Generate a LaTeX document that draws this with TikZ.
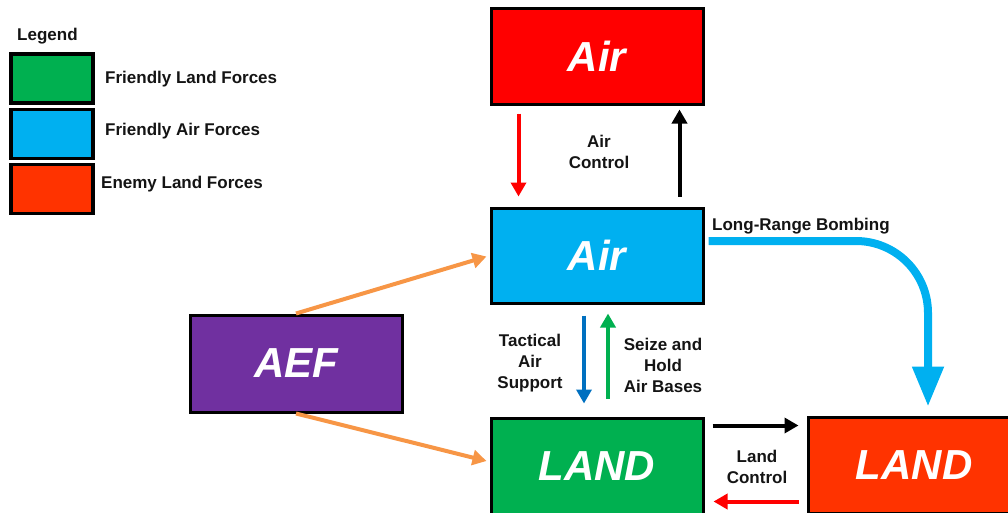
\documentclass[tikz,border=0pt]{standalone}
\usepackage{fontspec}
\setmainfont{Liberation Sans}
\usetikzlibrary{arrows.meta,calc}
\definecolor{cRed}{HTML}{FF0000}
\definecolor{cSky}{HTML}{00B0F0}
\definecolor{cGreen}{HTML}{00B050}
\definecolor{cEnemy}{HTML}{FF3300}
\definecolor{cPurple}{HTML}{7030A0}
\definecolor{cOrange}{HTML}{F79646}
\definecolor{cBlue}{HTML}{0070C0}
\tikzset{
  bigbox/.style={draw=black, line width=3pt, minimum width=212pt, minimum height=96pt, inner sep=0pt,
    text=white, font=\fontsize{42}{50}\selectfont\bfseries\itshape},
  legbox/.style={draw=black, line width=3.5pt, minimum width=82pt, minimum height=49pt, inner sep=0pt},
  lbl/.style={font=\fontsize{17}{21}\selectfont\bfseries, align=center, inner sep=0pt, text=black!92},
  arr/.style={line width=4pt, -{Triangle[length=14pt,width=15pt]}},
}
\begin{document}
\begin{tikzpicture}[x=1pt,y=-1pt]
\useasboundingbox (0,0) rectangle (1008,512);
\clip (0,0) rectangle (1008,512);
% legend
\node[lbl, anchor=west] (legT) at (17,36) {Legend};
\node[legbox, fill=cGreen] (lg1) at (52,78.5) {};
\node[legbox, fill=cSky] (lg2) at (52,134) {};
\node[legbox, fill=cEnemy] (lg3) at (52,189) {};
\node[lbl, anchor=west] (lt1) at (105,79) {Friendly Land Forces};
\node[lbl, anchor=west] (lt2) at (105,131) {Friendly Air Forces};
\node[lbl, anchor=west] (lt3) at (101,184) {Enemy Land Forces};
% boxes
\node[bigbox, fill=cRed] (redAir) at (597,56) {Air};
\node[bigbox, fill=cSky, minimum height=95pt] (blueAir) at (597,255.5) {Air};
\node[bigbox, fill=cGreen] (greenLand) at (597,466) {LAND};
\node[bigbox, fill=cEnemy] (enemyLand) at (914,465) {LAND};
\node[bigbox, fill=cPurple, minimum height=97pt] (aef) at (296,363.5) {AEF};
% air control
\draw[arr, draw=cRed, fill=cRed] ([xshift=29pt,yshift=-8pt]redAir.south west) -- ([xshift=29pt,yshift=10pt]blueAir.north west);
\draw[arr, draw=black] ([xshift=-25pt,yshift=10pt]blueAir.north east) -- ([xshift=-25pt,yshift=-4pt]redAir.south east);
\node[lbl] (acT) at (599,151.5) {Air\\Control};
% tactical / seize
\draw[arr, draw=cBlue] ([xshift=-13pt,yshift=-11pt]blueAir.south) -- ([xshift=-13pt,yshift=13pt]greenLand.north);
\draw[arr, draw=cGreen] ([xshift=11pt,yshift=18pt]greenLand.north) -- ([xshift=11pt,yshift=-9pt]blueAir.south);
\node[lbl] (tasT) at (530,363.5) {Tactical\\Air\\Support};
\node[lbl] (shT) at (663,365) {Seize and\\Hold\\Air Bases};
% long range bombing
\coordinate (lrTurn) at (928,241);
\draw[line width=8pt, draw=cSky, rounded corners=72pt, -{Triangle[length=40pt,width=30pt]}]
  ([xshift=4pt,yshift=14.5pt]blueAir.east) -- (lrTurn) -- ([yshift=9pt]enemyLand.north -| lrTurn);
\node[lbl, anchor=west] (lrT) at (712,226) {Long-Range Bombing};
% land control
\draw[arr, draw=black] ([xshift=8pt,yshift=-9pt]greenLand.north east) -- ([xshift=-8pt,yshift=-10pt]enemyLand.north west);
\draw[arr, draw=cRed] ([xshift=-8pt,yshift=-86pt]enemyLand.north west) -- ([xshift=9pt,yshift=-85pt]greenLand.north east);
\node[lbl] (lcT) at (757,466.5) {Land\\Control};
% AEF arrows
\draw[arr, draw=cOrange] (aef.north) -- ([xshift=-3pt,yshift=-1pt]blueAir.west);
\draw[arr, draw=cOrange] (aef.south) -- ([xshift=-3pt,yshift=5pt]greenLand.west);
\end{tikzpicture}
\end{document}
